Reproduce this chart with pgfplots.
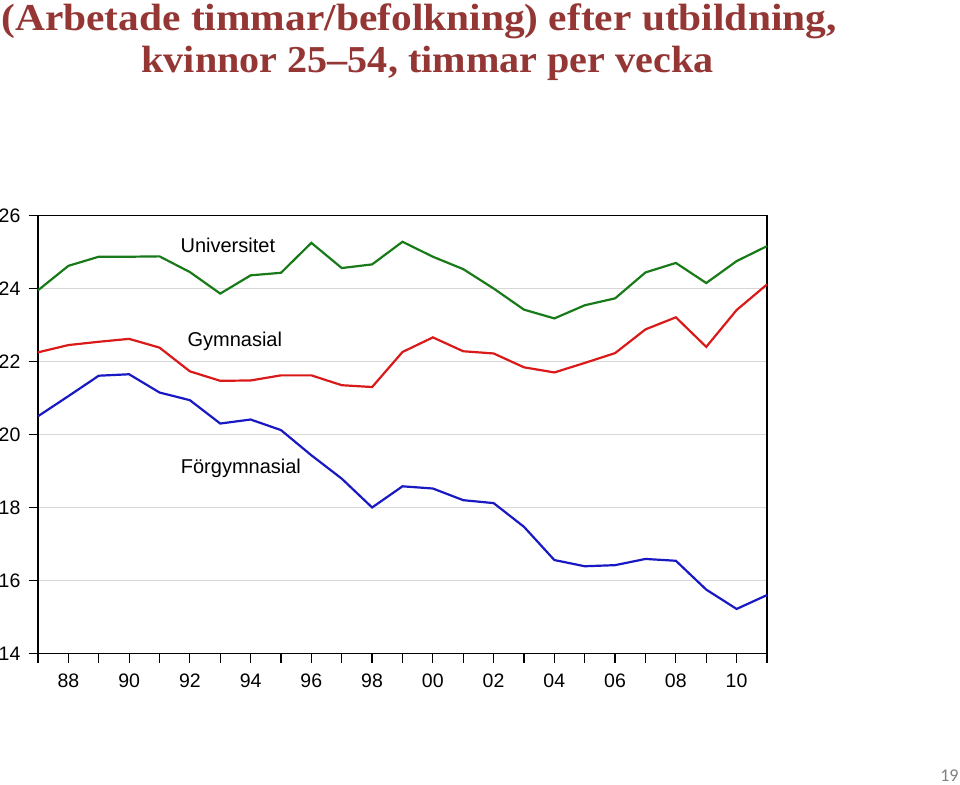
\documentclass[border=0pt]{standalone}
\usepackage{pgfplots}
\pgfplotsset{compat=1.18}
\usepackage{fontspec}
\setmainfont{Liberation Sans}
\newfontfamily\titlefont{Liberation Serif}
\newfontfamily\numfont{Carlito}

\definecolor{uni}{RGB}{25,122,25}
\definecolor{gym}{RGB}{218,25,25}
\definecolor{forg}{RGB}{25,25,195}
\definecolor{titlered}{RGB}{148,54,52}
\definecolor{gridgray}{RGB}{215,215,215}

% Arbetade timmar/befolkning, kvinnor 25-54
\pgfplotstableread{
year  uni    gym    forg
1987  23.95  22.25  20.50
1988  24.62  22.45  21.05
1989  24.87  22.54  21.61
1990  24.87  22.62  21.65
1991  24.88  22.38  21.15
1992  24.45  21.73  20.94
1993  23.86  21.47  20.30
1994  24.36  21.48  20.41
1995  24.43  21.62  20.12
1996  25.25  21.62  19.43
1997  24.56  21.35  18.79
1998  24.66  21.30  18.00
1999  25.28  22.26  18.58
2000  24.87  22.66  18.52
2001  24.53  22.28  18.20
2002  24.00  22.22  18.12
2003  23.42  21.84  17.47
2004  23.18  21.70  16.56
2005  23.54  21.96  16.39
2006  23.73  22.23  16.42
2007  24.44  22.88  16.59
2008  24.70  23.21  16.54
2009  24.15  22.40  15.75
2010  24.75  23.41  15.22
2011  25.16  24.11  15.60
}\datatable

\begin{document}
\begin{tikzpicture}
\path[use as bounding box] (0,0) rectangle (480pt,392.5pt);

\node[anchor=base, text=titlered, font={\titlefont\bfseries\fontsize{19}{21}\selectfont}, inner sep=0pt]
  at (209.5pt,377pt) {\scalebox{1.09}[1]{(Arbetade timmar/befolkning) efter utbildning,}};
\node[anchor=base, text=titlered, font={\titlefont\bfseries\fontsize{19}{21}\selectfont}, inner sep=0pt]
  at (213.75pt,356pt) {\scalebox{1.056}[1]{kvinnor 25–54, timmar per vecka}};

\begin{axis}[
  at={(19pt,284.75pt)}, anchor=north west,
  scale only axis, width=364.5pt, height=219pt,
  xmin=1987, xmax=2011, ymin=14, ymax=26,
  xtick={1987,...,2011},
  xticklabels={,88,,90,,92,,94,,96,,98,,00,,02,,04,,06,,08,,10,},
  ytick={14,16,...,26},
  xtick pos=lower, ytick pos=left,
  tick align=outside, major tick length=4.75pt,
  tick style={black, line width=0.6pt},
  axis line style={black, line width=0.6pt},
  ymajorgrids, grid style={gridgray, line width=0.6pt},
  /pgf/number format/assume math mode=true,
  tick label style={font=\fontsize{9.75}{11}\selectfont},
  yticklabel style={xshift=-0.5pt},
  xticklabel style={yshift=-2pt},
  every axis plot/.append style={line width=1.1pt, no markers},
  clip=false,
]
\addplot[uni]  table[x=year, y=uni]  {\datatable};
\addplot[gym]  table[x=year, y=gym]  {\datatable};
\addplot[forg] table[x=year, y=forg] {\datatable};

\node[font=\fontsize{10}{12}\selectfont] at (axis cs:1993.25,25.19) {Universitet};
\node[font=\fontsize{10}{12}\selectfont] at (axis cs:1993.48,22.54) {Gymnasial};
\node[font=\fontsize{10}{12}\selectfont] at (axis cs:1993.68,19.08) {Förgymnasial};
\end{axis}

\node[anchor=base east, text=gray, font={\numfont\fontsize{9}{10}\selectfont}, inner sep=0pt]
  at (479.5pt,1.5pt) {19};
\end{tikzpicture}
\end{document}
